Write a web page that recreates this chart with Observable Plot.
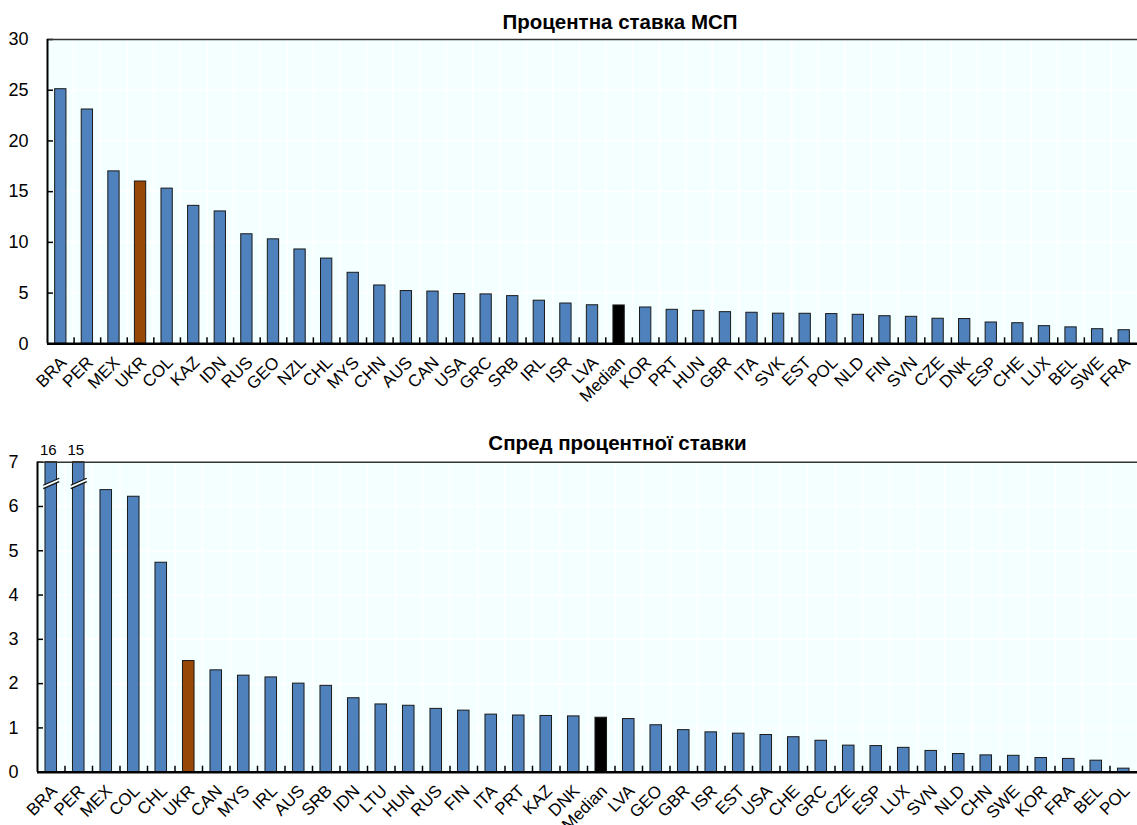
<!DOCTYPE html>
<html><head><meta charset="utf-8">
<script src="https://cdn.jsdelivr.net/npm/d3@7"></script>
<script src="https://cdn.jsdelivr.net/npm/@observablehq/plot@0.6"></script>
<style>
body{margin:0;background:#fff;}
#chart svg{display:block;}
</style></head><body><div id="chart"></div>
<script>
const rateCountries = ["BRA","PER","MEX","UKR","COL","KAZ","IDN","RUS","GEO","NZL","CHL","MYS","CHN","AUS","CAN","USA","GRC","SRB","IRL","ISR","LVA","Median","KOR","PRT","HUN","GBR","ITA","SVK","EST","POL","NLD","FIN","SVN","CZE","DNK","ESP","CHE","LUX","BEL","SWE","FRA"];
const rateValues = [25.1,23.1,17.0,16.0,15.3,13.6,13.05,10.8,10.3,9.3,8.4,7.0,5.75,5.2,5.15,4.9,4.87,4.7,4.25,3.97,3.8,3.78,3.58,3.35,3.25,3.12,3.06,2.97,2.96,2.93,2.86,2.72,2.66,2.47,2.44,2.1,2.03,1.74,1.62,1.44,1.34];
const rateTicks = [0,5,10,15,20,25,30];

const spreadCountries = ["BRA","PER","MEX","COL","CHL","UKR","CAN","MYS","IRL","AUS","SRB","IDN","LTU","HUN","RUS","FIN","ITA","PRT","KAZ","DNK","Median","LVA","GEO","GBR","ISR","EST","USA","CHE","GRC","CZE","ESP","LUX","SVN","NLD","CHN","SWE","KOR","FRA","BEL","POL"];
const spreadValues = [16,15,6.37,6.22,4.73,2.51,2.30,2.18,2.14,2.0,1.95,1.67,1.53,1.50,1.43,1.39,1.30,1.28,1.27,1.26,1.23,1.20,1.06,0.95,0.90,0.87,0.84,0.79,0.71,0.60,0.59,0.55,0.48,0.41,0.38,0.37,0.32,0.30,0.26,0.08];
const spreadTicks = [0,1,2,3,4,5,6,7];
const spreadBreakAt = 6.52;

const titles = ["Процентна ставка МСП", "Спред процентної ставки"];
const highlight = {UKR: "#974806", Median: "#000000"};
const BAR = "#4f81bd";
const FONT = '"Liberation Sans Narrow", "Arial Narrow", "Liberation Sans", Arial, sans-serif';

const breakFill = {draw(ctx){ ctx.moveTo(-8,1.8); ctx.lineTo(8,-5.2); ctx.lineTo(8,-1.8); ctx.lineTo(-8,5.2); ctx.closePath(); }};
const breakLines = {draw(ctx){ ctx.moveTo(-8,1.8); ctx.lineTo(8,-5.2); ctx.moveTo(-8,5.2); ctx.lineTo(8,-1.8); }};

function makeChart(cfg) {
  const W = 1137;
  const n = cfg.cats.length;
  const plotW = W - cfg.ml;
  const step = plotW / n;
  const plotH = cfg.height - cfg.mt - cfg.mb;
  const ymax = cfg.ticks[cfg.ticks.length - 1];
  const data = cfg.cats.map((c, i) => ({c, v: cfg.vals[i]}));
  const over = data.filter(d => d.v > ymax);
  const pI = cfg.pad;
  return Plot.plot({
    width: W, height: cfg.height,
    marginLeft: cfg.ml, marginRight: 0, marginTop: cfg.mt, marginBottom: cfg.mb,
    style: {fontFamily: FONT, color: "#000", background: "#fff", overflow: "visible"},
    x: {type: "band", domain: cfg.cats, paddingInner: pI, paddingOuter: pI / 2, round: false},
    y: {domain: [0, ymax], clamp: true},
    color: {type: "identity"},
    marks: [
      Plot.frame({fill: "#f4ffff", stroke: null}),
      Plot.ruleY(cfg.ticks, {stroke: "#fff", strokeWidth: 1.5}),
      Plot.ruleX(cfg.cats, {dx: step / 2, stroke: "#fff", strokeWidth: 1.5}),
      Plot.barY(data, {x: "c", y: "v", fill: d => highlight[d.c] ?? BAR, stroke: "#1a1a1a", strokeWidth: 1}),
      Plot.dot(over, {x: "c", y: () => cfg.breakAt, symbol: breakFill, fill: "#f4ffff", stroke: null}),
      Plot.dot(over, {x: "c", y: () => cfg.breakAt, symbol: breakLines, fill: "none", stroke: "#111", strokeWidth: 1.3}),
      Plot.text(over, {x: "c", y: () => ymax, text: d => String(d.v), dy: -12, dx: -3, fontSize: 15}),
      Plot.ruleX(cfg.cats.slice(1), {dx: -step / 2, insetTop: plotH - 6, stroke: "#000", strokeWidth: 1.5}),
      Plot.ruleY(cfg.ticks, {insetRight: plotW - 6, stroke: "#000", strokeWidth: 1.5}),
      Plot.ruleY([ymax], {stroke: "#333", strokeWidth: 1.5}),
      Plot.ruleX([cfg.cats[0]], {dx: -step / 2, stroke: "#000", strokeWidth: 2}),
      Plot.ruleY([0], {stroke: "#000", strokeWidth: 2.5}),
      Plot.axisY({ticks: cfg.ticks, tickFormat: d => String(d), tickSize: 0, tickPadding: 19, fontSize: 18, label: null}),
      Plot.axisX({tickSize: 0, tickRotate: -45, tickPadding: 16, dx: 3, fontSize: 17, label: null}),
      Plot.text([cfg.title], {text: d => d, frameAnchor: "top", lineAnchor: "middle", dy: cfg.titleDy, dx: cfg.titleDx, fontWeight: "bold", fontSize: 20.5})
    ]
  });
}

const root = document.getElementById("chart");
root.append(makeChart({cats: rateCountries, vals: rateValues, ticks: rateTicks, title: titles[0],
  height: 412, mt: 39, mb: 68.7, ml: 47, pad: 0.575, breakAt: null, titleDx: 27.5, titleDy: -17}));
root.append(makeChart({cats: spreadCountries, vals: spreadValues, ticks: spreadTicks, title: titles[1],
  height: 413, mt: 49.7, mb: 53.3, ml: 37, pad: 0.58, breakAt: spreadBreakAt, titleDx: 30, titleDy: -18.5}));
</script></body></html>
